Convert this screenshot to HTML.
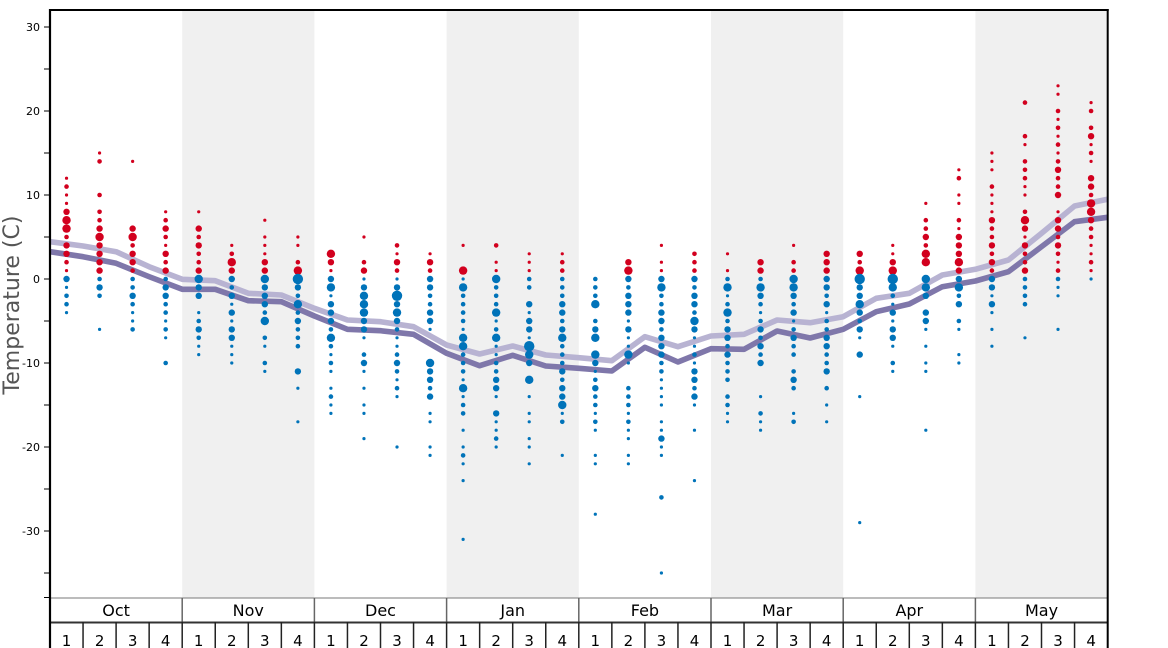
<!DOCTYPE html>
<html><head><meta charset="utf-8"><style>
html,body{margin:0;padding:0;background:#fff;}
svg{display:block;font-family:"DejaVu Sans","Liberation Sans",sans-serif;}
</style></head><body>
<svg id="c" width="1168" height="648" viewBox="0 0 1168 648" xmlns="http://www.w3.org/2000/svg">
<rect width="1168" height="648" fill="#fff"/>
<g fill="#f0f0f0">
<rect x="182.2" y="10" width="132.2" height="588"/>
<rect x="446.6" y="10" width="132.2" height="588"/>
<rect x="711" y="10" width="132.2" height="588"/>
<rect x="975.4" y="10" width="132.2" height="588"/>
</g>
<g id="lines"></g>
<g id="dots"></g>
<g stroke="#000" stroke-width="1">
<line x1="44" y1="27" x2="50" y2="27"/><line x1="44" y1="69" x2="50" y2="69"/>
<line x1="44" y1="111" x2="50" y2="111"/><line x1="44" y1="153" x2="50" y2="153"/>
<line x1="44" y1="195" x2="50" y2="195"/><line x1="44" y1="237" x2="50" y2="237"/>
<line x1="44" y1="279" x2="50" y2="279"/><line x1="44" y1="321" x2="50" y2="321"/>
<line x1="44" y1="363" x2="50" y2="363"/><line x1="44" y1="405" x2="50" y2="405"/>
<line x1="44" y1="447" x2="50" y2="447"/><line x1="44" y1="489" x2="50" y2="489"/>
<line x1="44" y1="531" x2="50" y2="531"/><line x1="44" y1="573" x2="50" y2="573"/>
<line x1="44" y1="597.5" x2="50" y2="597.5"/>
</g>
<g font-size="11" fill="#000" text-anchor="end">
<text x="40" y="31">30</text>
<text x="40" y="115">20</text>
<text x="40" y="199">10</text>
<text x="40" y="283">0</text>
<text x="40" y="367">-10</text>
<text x="40" y="451">-20</text>
<text x="40" y="535">-30</text>
</g>
<text transform="translate(19,305) rotate(-90)" text-anchor="middle" font-size="22" fill="#555">Temperature (C)</text>
<line x1="50" y1="598" x2="1108" y2="598" stroke="#7a7a7a" stroke-width="1"/>
<g stroke="#666" stroke-width="1.5">
<line x1="182.2" y1="598" x2="182.2" y2="622"/><line x1="314.4" y1="598" x2="314.4" y2="622"/>
<line x1="446.6" y1="598" x2="446.6" y2="622"/><line x1="578.8" y1="598" x2="578.8" y2="622"/>
<line x1="711" y1="598" x2="711" y2="622"/><line x1="843.2" y1="598" x2="843.2" y2="622"/>
<line x1="975.4" y1="598" x2="975.4" y2="622"/>
</g>
<line x1="50" y1="622.5" x2="1108" y2="622.5" stroke="#333" stroke-width="2"/>
<g id="wk" stroke="#222" stroke-width="1.5"></g>
<g font-size="16" fill="#000" text-anchor="middle">
<text x="116.1" y="616">Oct</text><text x="248.3" y="616">Nov</text>
<text x="380.5" y="616">Dec</text><text x="512.7" y="616">Jan</text>
<text x="644.9" y="616">Feb</text><text x="777.1" y="616">Mar</text>
<text x="909.3" y="616">Apr</text><text x="1041.5" y="616">May</text>
</g>
<g font-size="15" fill="#000" text-anchor="middle">
<text x="66.5" y="646">1</text><text x="99.6" y="646">2</text><text x="132.6" y="646">3</text><text x="165.7" y="646">4</text>
<text x="198.7" y="646">1</text><text x="231.8" y="646">2</text><text x="264.8" y="646">3</text><text x="297.9" y="646">4</text>
<text x="330.9" y="646">1</text><text x="364.0" y="646">2</text><text x="397.0" y="646">3</text><text x="430.1" y="646">4</text>
<text x="463.1" y="646">1</text><text x="496.2" y="646">2</text><text x="529.2" y="646">3</text><text x="562.3" y="646">4</text>
<text x="595.3" y="646">1</text><text x="628.4" y="646">2</text><text x="661.4" y="646">3</text><text x="694.5" y="646">4</text>
<text x="727.5" y="646">1</text><text x="760.6" y="646">2</text><text x="793.6" y="646">3</text><text x="826.7" y="646">4</text>
<text x="859.7" y="646">1</text><text x="892.8" y="646">2</text><text x="925.8" y="646">3</text><text x="958.9" y="646">4</text>
<text x="991.9" y="646">1</text><text x="1025.0" y="646">2</text><text x="1058.0" y="646">3</text><text x="1091.1" y="646">4</text>
</g>
<line x1="49" y1="10" x2="1108.7" y2="10" stroke="#000" stroke-width="2"/>
<line x1="50" y1="9" x2="50" y2="648" stroke="#000" stroke-width="2.2"/>
<line x1="1107.7" y1="9" x2="1107.7" y2="648" stroke="#000" stroke-width="2"/>
</svg>
<script>
(function(){
var NS="http://www.w3.org/2000/svg";
var W=33.05, X0=50;
function Y(t){return 279-8.4*t;}
function el(n,a,p){var e=document.createElementNS(NS,n);for(var k in a)e.setAttribute(k,a[k]);p.appendChild(e);return e;}
var wk=document.getElementById('wk');
for(var k=1;k<32;k++){var x=X0+W*k;el('line',{x1:x,y1:622,x2:x,y2:648},wk);}
var light=[241.7,246,251.7,266.7,279.3,280.7,293.3,295,308.3,320,321.7,326.7,345,354,346,355,357.7,360.7,336.7,346.7,336,334.3,320,322.7,316.7,298.3,293.3,275,269.3,260,233.3,206,199.3];
var dark=[251.7,256.7,263.3,276.7,289.3,289.3,300.7,301.7,316,329.3,330.7,334.3,353.3,365.7,355.3,366,368.3,371,347.3,362,348.7,349.3,331,338,329.3,311.7,304,286.7,281,271.7,246.7,221.7,217.3];
var lg=document.getElementById('lines');
function pl(arr,col){var s=[];for(var i=0;i<arr.length;i++)s.push((X0+W*i).toFixed(2)+','+arr[i]);
el('polyline',{points:s.join(' '),fill:'none',stroke:col,'stroke-width':5.6,'stroke-linejoin':'round'},lg);}
pl(light,'#b8b3d2');pl(dark,'#7f77aa');
var D=[
"12:1,11:2,10:1,9:1,8:3,7:4,6:4,5:2,4:3,3:3,2:2,1:1,0:3,-1:1,-2:2,-3:2,-4:1",
"15:1,14:2,10:2,8:2,7:2,6:3,5:4,4:3,3:3,2:3,1:3,0:2,-1:3,-2:2,-6:1",
"14:1,6:3,5:4,4:2,3:3,2:3,1:2,0:2,-1:2,-2:3,-3:2,-4:1,-5:1,-6:2",
"8:1,7:2,6:3,5:2,4:1,3:3,2:2,1:3,0:2,-1:3,-2:3,-3:2,-4:2,-5:1,-6:2,-7:1,-10:2",
"8:1,6:3,5:2,4:3,3:2,2:2,1:3,0:4,-1:3,-2:3,-4:1,-5:2,-6:3,-7:2,-8:1,-9:1",
"4:1,3:2,2:4,1:3,0:3,-1:2,-2:3,-3:1,-4:3,-5:1,-6:3,-7:3,-8:1,-9:1,-10:1",
"7:1,5:1,4:1,3:1,2:3,1:3,0:4,-1:3,-2:3,-3:3,-4:2,-5:4,-7:2,-8:1,-10:2,-11:1",
"5:1,4:1,2:2,1:4,0:5,-1:3,-2:2,-3:4,-4:2,-5:3,-6:2,-7:2,-8:2,-11:3,-13:1,-17:1",
"3:4,2:3,1:1,0:3,-1:4,-2:1,-3:3,-4:3,-5:3,-6:2,-7:4,-8:2,-9:1,-10:2,-11:1,-13:1,-14:2,-15:1,-16:1",
"5:1,2:2,1:3,0:1,-1:3,-2:4,-3:4,-4:4,-5:3,-6:3,-7:1,-9:2,-10:3,-11:1,-13:1,-15:1,-16:1,-19:1",
"4:2,3:1,2:3,1:2,0:1,-1:3,-2:5,-3:3,-4:4,-5:3,-6:2,-7:1,-8:1,-9:2,-10:3,-11:2,-12:1,-13:2,-14:1,-20:1",
"3:1,2:3,1:2,0:3,-1:3,-2:2,-3:2,-4:3,-5:3,-6:1,-10:4,-11:3,-12:3,-13:2,-14:3,-16:1,-17:1,-20:1,-21:1",
"4:1,1:4,0:1,-1:4,-2:2,-3:2,-4:2,-5:2,-6:1,-7:4,-8:4,-9:2,-10:2,-11:2,-12:1,-13:4,-14:1,-15:2,-16:2,-18:1,-20:1,-21:2,-22:1,-24:1,-31:1",
"4:2,2:1,1:1,0:4,-1:2,-2:2,-3:2,-4:4,-5:1,-6:2,-7:4,-8:1,-9:1,-10:2,-11:2,-12:3,-13:3,-14:1,-16:3,-17:1,-18:1,-19:2,-20:1",
"3:1,2:1,1:1,0:2,-1:2,-3:3,-4:1,-5:3,-6:3,-7:1,-8:5,-9:4,-10:3,-12:4,-14:1,-16:1,-17:1,-19:1,-20:1,-22:1",
"3:1,2:2,1:2,0:2,-1:2,-2:2,-3:3,-4:3,-5:2,-6:3,-7:4,-8:2,-9:2,-10:2,-11:3,-12:2,-13:3,-14:3,-15:4,-16:1,-17:2,-21:1",
"0:2,-1:2,-2:2,-3:4,-5:2,-6:3,-7:4,-9:4,-10:3,-11:1,-12:2,-13:3,-14:2,-15:2,-16:1,-17:2,-18:1,-21:1,-22:1,-28:1",
"2:3,1:4,0:3,-1:2,-2:3,-3:3,-4:3,-5:1,-6:3,-7:1,-8:1,-9:4,-10:1,-13:2,-14:2,-15:2,-16:1,-17:2,-18:1,-19:1,-21:1,-22:1",
"4:1,2:1,1:1,0:3,-1:4,-2:2,-3:2,-4:3,-5:3,-6:2,-7:3,-8:3,-9:3,-10:2,-11:2,-12:1,-13:1,-14:1,-15:1,-17:1,-18:1,-19:3,-20:1,-21:1,-26:2,-35:1",
"3:2,2:2,1:2,0:3,-1:2,-2:3,-3:3,-4:2,-5:4,-6:3,-7:1,-8:1,-9:2,-10:1,-11:3,-12:3,-13:2,-14:3,-15:1,-18:1,-24:1",
"3:1,1:1,0:2,-1:4,-2:1,-3:2,-4:4,-5:2,-6:3,-7:3,-8:2,-9:3,-10:2,-11:2,-12:2,-14:2,-15:2,-16:1,-17:1",
"2:3,1:3,0:2,-1:4,-2:3,-3:2,-4:1,-5:2,-6:3,-7:2,-8:3,-9:2,-10:3,-14:1,-16:2,-17:1,-18:1",
"4:1,2:2,1:2,0:4,-1:4,-2:3,-3:2,-4:3,-5:1,-6:2,-7:3,-8:2,-9:2,-11:2,-12:3,-13:2,-16:1,-17:2",
"3:3,2:3,1:3,0:3,-1:3,-2:2,-3:3,-4:1,-5:2,-6:2,-7:3,-8:3,-9:2,-10:2,-11:3,-13:2,-15:1,-17:1",
"3:3,2:2,1:4,0:5,-1:3,-2:3,-3:4,-4:3,-5:2,-6:3,-7:1,-9:3,-14:1,-29:1",
"4:1,3:1,2:3,1:4,0:5,-1:4,-2:2,-3:1,-4:3,-5:1,-6:3,-7:3,-8:1,-10:2,-11:1",
"9:1,7:2,6:2,5:3,4:2,3:4,2:4,0:4,-1:4,-2:3,-4:3,-5:3,-6:1,-8:1,-10:1,-11:1,-18:1",
"13:1,12:2,10:1,9:1,7:2,6:1,5:3,4:3,3:3,2:4,1:3,0:3,-1:4,-2:2,-3:3,-5:2,-6:1,-9:1,-10:1",
"15:1,14:1,13:1,11:2,10:1,9:1,8:1,7:3,6:2,5:2,4:3,3:2,2:3,1:2,0:3,-1:3,-2:1,-3:3,-4:1,-6:1,-8:1",
"21:2,17:2,16:1,14:2,13:2,12:2,11:1,10:1,8:2,7:4,6:3,5:1,4:3,3:2,2:2,1:3,0:2,-1:2,-2:2,-3:2,-7:1",
"23:1,22:1,20:2,19:1,18:2,17:1,16:2,15:1,14:2,13:3,12:2,11:2,10:3,8:1,7:3,6:3,5:2,4:3,3:2,2:1,1:2,0:2,-1:1,-2:1,-6:1",
"21:1,20:2,18:2,17:3,16:1,15:2,14:1,12:3,11:3,10:2,9:4,8:4,7:3,6:2,5:2,4:1,3:1,2:2,1:1,0:1"
];
var R={1:1.6,2:2.3,3:3.2,4:4.2,5:5.2};
var dg=document.getElementById('dots');
for(var i=0;i<D.length;i++){
var cx=X0+W*(i+0.5);
var items=D[i].split(',');
for(var j=0;j<items.length;j++){
var p=items[j].split(':');var t=parseFloat(p[0]);var s=parseInt(p[1]);
el('circle',{cx:cx.toFixed(2),cy:Y(t).toFixed(2),r:R[s],fill:(t>0?'#d2001e':'#0073b9')},dg);
}}
})();
</script>
</body></html>
